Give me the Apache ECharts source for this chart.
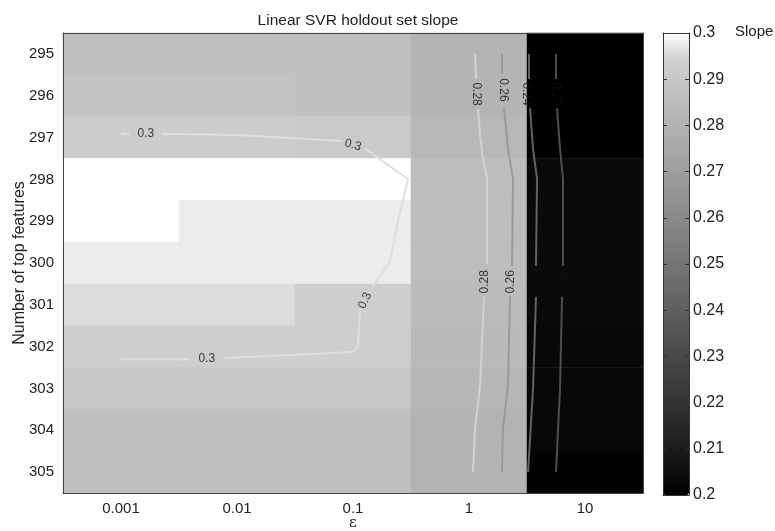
<!DOCTYPE html>
<html>
<head>
<meta charset="utf-8">
<script src="https://cdn.jsdelivr.net/npm/echarts@6/dist/echarts.min.js"></script>
<style>
  html, body { margin: 0; padding: 0; background: #fff; }
  #main-chart { width: 775px; height: 531px; }
</style>
</head>
<body>
<div id="main-chart"></div>
<script>
// epsilon columns and number-of-features rows
const epsLabels = ['0.001', '0.01', '0.1', '1', '10'];
const featureCounts = ['295', '296', '297', '298', '299', '300', '301', '302', '303', '304', '305'];

// slope per row (295 -> 305), one array per epsilon column
const slopeEps0001 = [0.287, 0.2885, 0.2921, 0.300, 0.300, 0.2978, 0.2959, 0.2929, 0.290, 0.287, 0.287];
const slopeEps001 = [0.287, 0.2885, 0.2921, 0.300, 0.2978, 0.2978, 0.2959, 0.2929, 0.290, 0.287, 0.287];
const slopeEps01 = [0.287, 0.287, 0.2915, 0.300, 0.2978, 0.2978, 0.2929, 0.2929, 0.290, 0.287, 0.287];
const slopeEps1 = [0.281, 0.281, 0.283, 0.2855, 0.2855, 0.2855, 0.2845, 0.284, 0.282, 0.2805, 0.2805];
const slopeEps10 = [0.200, 0.200, 0.200, 0.2033, 0.2033, 0.2033, 0.2033, 0.2027, 0.2027, 0.2027, 0.201];

// colour bar ticks
const colorbarTicks = [0.2, 0.21, 0.22, 0.23, 0.24, 0.25, 0.26, 0.27, 0.28, 0.29, 0.3];

// contour lines, points are [epsilon, number of features]; null splits a line where its label sits
const contour30 = [
  [0.001, 296.91], [0.00119, 296.91], null,
  [0.00225, 296.91], [0.01, 296.94], [0.082, 297.08], null,
  [0.127, 297.27], [0.298, 297.99], [0.239, 299.11], [0.208, 299.98], [0.149, 300.55], null,
  [0.115, 301.1], [0.110, 302.01], [0.1, 302.12], [0.067, 302.15], [0.0079, 302.27], null,
  [0.0039, 302.3], [0.001, 302.3]
];
const contour28 = [
  [1.127, 295.0], [1.149, 295.6], null,
  [1.196, 296.32], [1.25, 297.0], [1.32, 297.51], [1.429, 297.99], [1.429, 300.02], null,
  [1.346, 300.81], [1.244, 302.94], [1.127, 303.97], [1.083, 305.0]
];
const contour26 = [
  [1.925, 295.0], [1.925, 295.48], null,
  [2.004, 296.3], [2.168, 297.27], [2.395, 297.99], [2.35, 300.07], null,
  [2.256, 300.8], [2.168, 302.94], [1.96, 303.97], [1.925, 305.0]
];
const contour24 = [
  [3.29, 295.0], [3.29, 295.6], null,
  [3.36, 296.3], [3.565, 297.27], [3.86, 297.99], [3.78, 300.07], null,
  [3.78, 300.81], [3.565, 303.0], [3.23, 305.0]
];
const contour22 = [
  [5.62, 295.0], [5.62, 295.6], null,
  [5.74, 296.3], [6.09, 297.27], [6.46, 297.99], [6.46, 300.07], null,
  [6.34, 300.81], [6.09, 303.0], [5.62, 305.0]
];

// contour labels: [epsilon, features, text, rotation]
const contourLabels = [
  [0.00164, 296.91, '0.3', 0],
  [0.1, 297.18, '0.3', -15],
  [0.127, 300.9, '0.3', 65],
  [0.0055, 302.3, '0.3', 0],
  [1.149, 295.96, '0.28', -90],
  [1.374, 300.45, '0.28', 90],
  [1.96, 295.86, '0.26', -90],
  [2.31, 300.45, '0.26', 90],
  [3.13, 295.96, '0.24', -90],
  [3.86, 300.42, '0.24', 90],
  [5.62, 295.96, '0.22', -90],
  [6.46, 300.42, '0.22', 90]
];

const FONT = "'Liberation Sans', Arial, sans-serif";
const AXIS_COLOR = '#444';

function buildHeatmap() {
  const cols = [slopeEps0001, slopeEps001, slopeEps01, slopeEps1, slopeEps10];
  const data = [];
  cols.forEach((col, i) => {
    col.forEach((v, j) => data.push([i, j, v]));
  });
  return data;
}

function toLog(points) {
  return points.map(p => (p ? [Math.log10(p[0]), p[1]] : null));
}

function contourSeries(points, color) {
  return {
    type: 'line',
    xAxisIndex: 1,
    yAxisIndex: 1,
    data: toLog(points),
    connectNulls: false,
    symbol: 'none',
    silent: true,
    z: 5,
    lineStyle: { color: color, width: 2 }
  };
}

const chartDom = document.getElementById('main-chart');
const myChart = echarts.init(chartDom);

const option = {
  backgroundColor: '#fff',
  animation: false,
  textStyle: { fontFamily: FONT },
  title: {
    text: 'Linear SVR holdout set slope',
    left: 353,
    top: 8,
    textAlign: 'center',
    textStyle: { fontSize: 15.5, fontWeight: 'normal', color: '#222', fontFamily: FONT }
  },
  graphic: [{
    type: 'text',
    left: 735,
    top: 24,
    style: { text: 'Slope', fontSize: 15, fill: '#222', fontFamily: FONT }
  }],
  grid: [
    { left: 63, top: 33, width: 580, height: 460, outerBoundsMode: 'none', containLabel: false },
    { left: 663, top: 33, width: 26, height: 462, outerBoundsMode: 'none', containLabel: false }
  ],
  xAxis: [
    {
      type: 'category', gridIndex: 0, position: 'bottom', data: epsLabels, z: 10,
      axisLine: { onZero: false, lineStyle: { color: AXIS_COLOR } },
      axisTick: { inside: true, alignWithLabel: true, length: 5, lineStyle: { color: AXIS_COLOR } },
      axisLabel: { fontSize: 15, color: '#222', margin: 8, fontFamily: FONT },
      name: 'ε', nameLocation: 'middle', nameGap: 23, nameMoveOverlap: false,
      nameTextStyle: { fontSize: 15, color: '#222', fontFamily: "'DejaVu Serif', serif" }
    },
    { type: 'value', gridIndex: 0, position: 'top', min: -3.5, max: 1.5, show: false },
    {
      type: 'category', gridIndex: 0, position: 'top', data: epsLabels, z: 10,
      axisLine: { onZero: false, lineStyle: { color: AXIS_COLOR } },
      axisTick: { inside: true, alignWithLabel: true, length: 5, lineStyle: { color: AXIS_COLOR } },
      axisLabel: { show: false }
    },
    {
      type: 'value', gridIndex: 1, position: 'bottom', min: 0, max: 1, z: 10,
      axisLine: { onZero: false, lineStyle: { color: '#333' } },
      axisTick: { show: false }, axisLabel: { show: false }, splitLine: { show: false }
    },
    {
      type: 'value', gridIndex: 1, position: 'top', min: 0, max: 1, z: 10,
      axisLine: { onZero: false, lineStyle: { color: '#333' } },
      axisTick: { show: false }, axisLabel: { show: false }, splitLine: { show: false }
    }
  ],
  yAxis: [
    {
      type: 'category', gridIndex: 0, position: 'left', data: featureCounts, inverse: true, z: 10,
      axisLine: { onZero: false, lineStyle: { color: AXIS_COLOR } },
      axisTick: { alignWithLabel: true, length: 5, lineStyle: { color: AXIS_COLOR } },
      axisLabel: { fontSize: 15, color: '#222', margin: 9, fontFamily: FONT },
      name: 'Number of top features', nameLocation: 'middle', nameGap: 35, nameRotate: 90,
      nameMoveOverlap: false,
      nameTextStyle: { fontSize: 16, color: '#222', fontFamily: FONT }
    },
    { type: 'value', gridIndex: 0, position: 'right', min: 294.5, max: 305.5, inverse: true, show: false },
    {
      type: 'category', gridIndex: 0, position: 'right', data: featureCounts, z: 10,
      axisLine: { onZero: false, lineStyle: { color: AXIS_COLOR } },
      axisTick: { show: false }, axisLabel: { show: false }
    },
    {
      type: 'value', gridIndex: 1, position: 'right', min: 0.2, max: 0.3, interval: 0.01, z: 10,
      axisLine: { show: true, onZero: false, lineStyle: { color: '#333' } },
      axisTick: { show: true, inside: true, length: 4, lineStyle: { color: '#333' } },
      axisLabel: {
        fontSize: 16, color: '#222', margin: 4, fontFamily: FONT,
        formatter: v => String(+v.toFixed(2))
      },
      splitLine: { show: false }
    },
    {
      type: 'value', gridIndex: 1, position: 'left', min: 0.2, max: 0.3, interval: 0.01, z: 10,
      axisLine: { show: true, onZero: false, lineStyle: { color: '#333' } },
      axisTick: { show: true, inside: true, length: 4, lineStyle: { color: '#333' } },
      axisLabel: { show: false },
      splitLine: { show: false }
    }
  ],
  visualMap: {
    type: 'continuous',
    seriesIndex: 0,
    min: colorbarTicks[0],
    max: colorbarTicks[colorbarTicks.length - 1],
    show: true,
    calculable: false,
    orient: 'vertical',
    left: 663,
    top: 33,
    padding: 0,
    itemWidth: 26,
    itemHeight: 462,
    text: null,
    inRange: {
      color: ['#000000', '#0f0f0f', '#1c1c1c', '#282828', '#333333', '#3e3e3e', '#494949',
        '#545454', '#5f5f5f', '#6a6a6a', '#757575', '#808080', '#8a8a8a', '#949494',
        '#9e9e9e', '#a8a8a8', '#b2b2b2', '#bcbcbc', '#c6c6c6', '#d4d4d4', '#ffffff']
    }
  },
  series: [
    {
      type: 'heatmap',
      xAxisIndex: 0,
      yAxisIndex: 0,
      data: buildHeatmap(),
      silent: true,
      z: 2
    },
    contourSeries(contour30, '#dedede'),
    contourSeries(contour28, '#d2d2d2'),
    contourSeries(contour26, '#9a9a9a'),
    contourSeries(contour24, '#626262'),
    contourSeries(contour22, '#4e4e4e'),
    {
      type: 'scatter',
      xAxisIndex: 1,
      yAxisIndex: 1,
      silent: true,
      z: 6,
      symbolSize: 1,
      itemStyle: { color: 'rgba(0,0,0,0)' },
      data: contourLabels.map(l => ({
        value: [Math.log10(l[0]), l[1]],
        label: {
          show: true, position: 'inside', formatter: l[2], rotate: l[3],
          fontSize: 12, color: '#111', fontFamily: FONT
        }
      }))
    }
  ]
};

myChart.setOption(option);
</script>
</body>
</html>
